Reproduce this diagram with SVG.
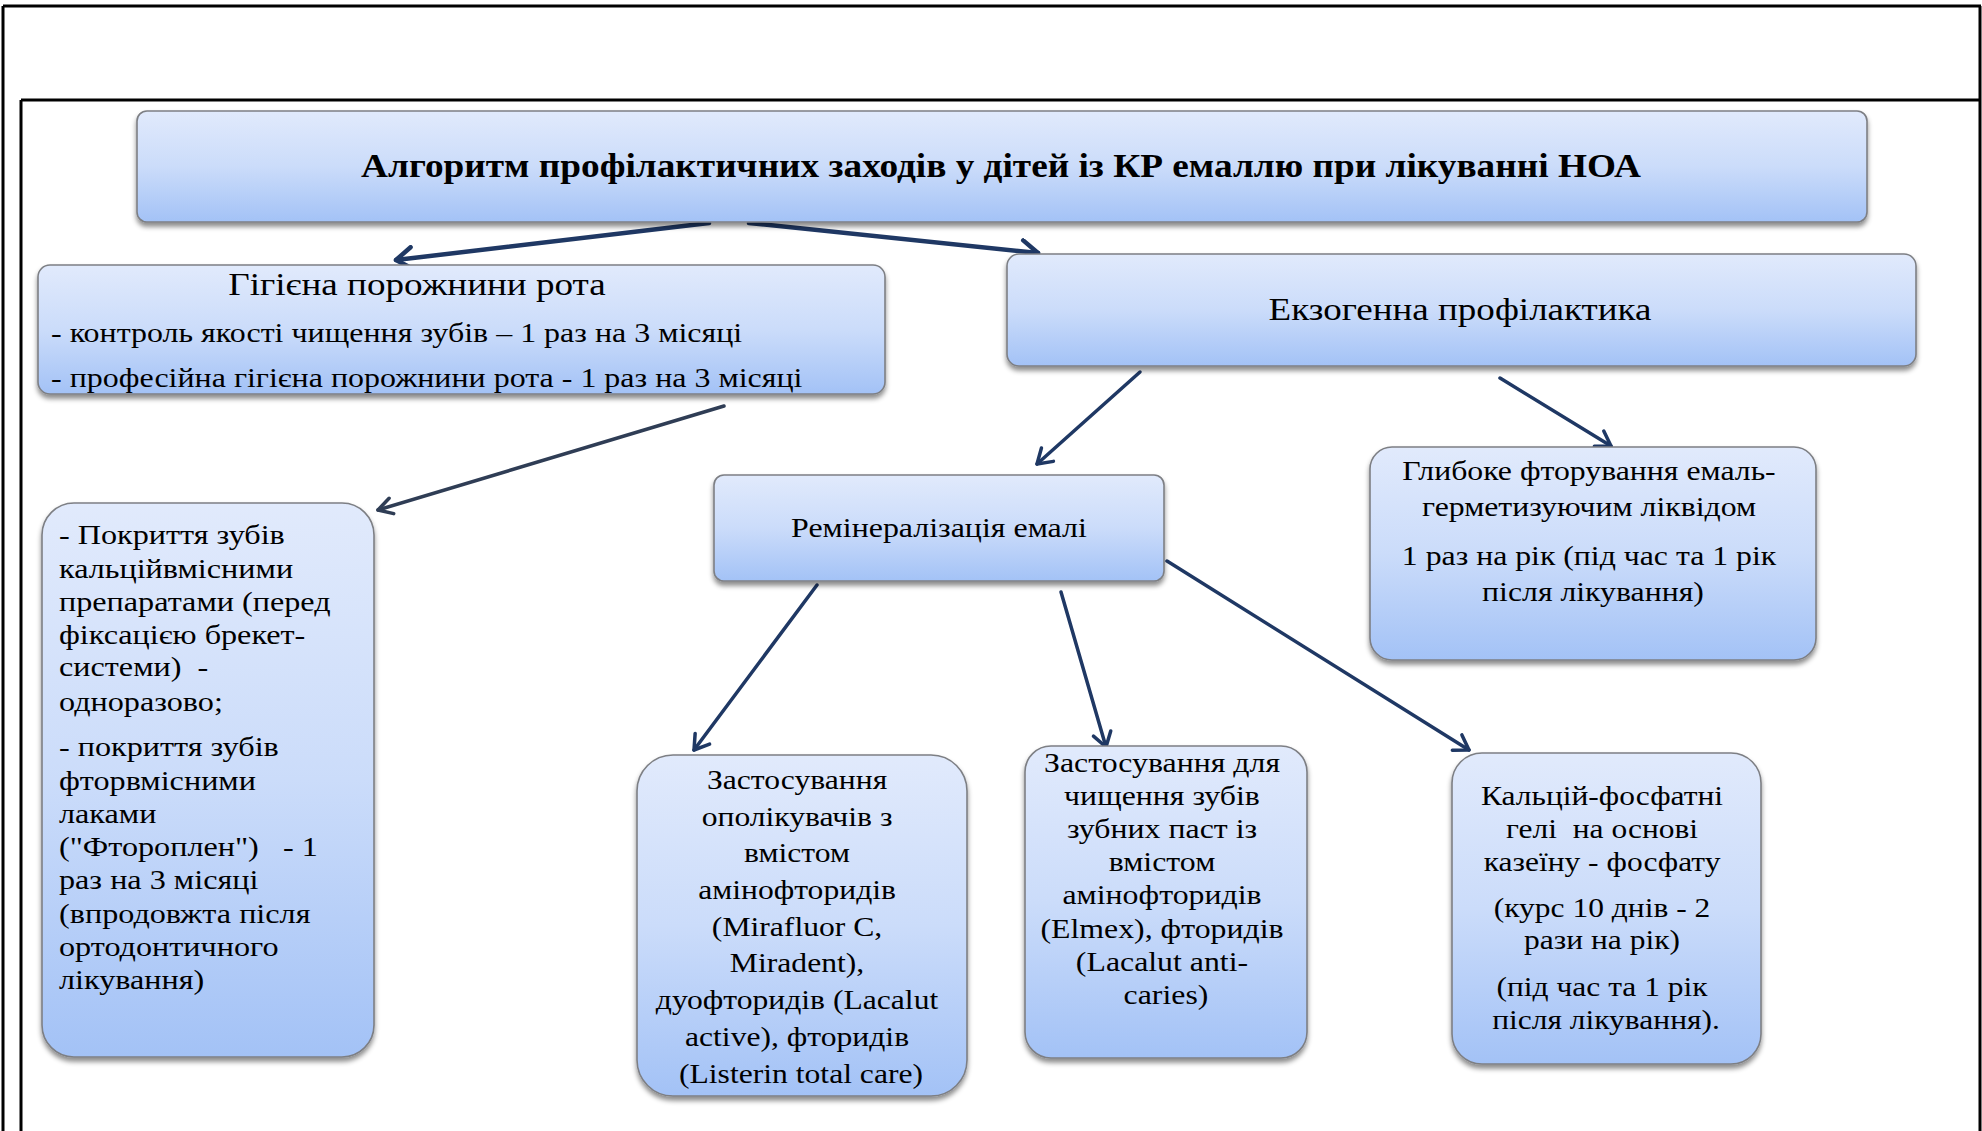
<svg xmlns="http://www.w3.org/2000/svg" width="1982" height="1131" viewBox="0 0 1982 1131">
  <defs>
    <linearGradient id="boxFill" x1="0" y1="0" x2="0" y2="1">
      <stop offset="0" stop-color="#e1eafc"/>
      <stop offset="0.5" stop-color="#cbdcfa"/>
      <stop offset="1" stop-color="#a3c2f6"/>
    </linearGradient>
    <filter id="shadow" x="-5%" y="-10%" width="110%" height="125%">
      <feDropShadow dx="0" dy="4" stdDeviation="2.5" flood-color="#000" flood-opacity="0.45"/>
    </filter>
    <marker id="arrowThick" markerUnits="userSpaceOnUse" markerWidth="26" markerHeight="26" viewBox="0 0 26 26" refX="23" refY="13" orient="auto">
      <path d="M7,2 L23,13 L7,24" fill="none" stroke="#1f3864" stroke-width="4.5" stroke-linecap="round" stroke-linejoin="round"/>
    </marker>
    <marker id="arrow" markerUnits="userSpaceOnUse" markerWidth="24" markerHeight="24" viewBox="0 0 24 24" refX="21" refY="12" orient="auto">
      <path d="M7,3 L21,12 L7,21" fill="none" stroke="#1f3864" stroke-width="3.5" stroke-linecap="round" stroke-linejoin="round"/>
    </marker>
    <marker id="arrowGrey" markerUnits="userSpaceOnUse" markerWidth="24" markerHeight="24" viewBox="0 0 24 24" refX="21" refY="12" orient="auto">
      <path d="M7,4 L21,12 L7,20" fill="none" stroke="#2f3d55" stroke-width="3.5" stroke-linecap="round" stroke-linejoin="round"/>
    </marker>
  </defs>
  <style>
    .box { fill: url(#boxFill); stroke: #7d7f84; stroke-width: 1.6; filter: url(#shadow); }
    .frame { stroke: #000; stroke-width: 3; fill: none; }
    text { font-family: "Liberation Serif", "Times New Roman", serif; fill: #000; }
    .t28 { font-size: 28px; }
    .c { text-anchor: middle; }
    .title { font-size: 33px; font-weight: bold; text-anchor: middle; }
    .head { font-size: 32px; }
    .con { fill: none; stroke: #1f3864; stroke-width: 3.5; stroke-linecap: round; }
  </style>

  <!-- page frame -->
  <g id="frame">
    <line class="frame" x1="3" y1="6" x2="1981" y2="6"/>
    <line class="frame" x1="3" y1="6" x2="3" y2="1131"/>
    <line class="frame" x1="1980" y1="6" x2="1980" y2="1131"/>
    <line class="frame" x1="21" y1="100" x2="1981" y2="100"/>
    <line class="frame" x1="21" y1="100" x2="21" y2="1131"/>
  </g>

  <!-- connectors -->
  <g id="connectors">
    <line class="con" style="stroke-width:4.5" x1="709" y1="223" x2="396" y2="260" marker-end="url(#arrowThick)"/>
    <line class="con" style="stroke-width:4.5" x1="749" y1="223" x2="1038" y2="253" marker-end="url(#arrowThick)"/>
    <line class="con" style="stroke:#2f3d55" x1="724" y1="406" x2="378" y2="510" marker-end="url(#arrowGrey)"/>
    <line class="con" x1="1140" y1="372" x2="1037" y2="464" marker-end="url(#arrow)"/>
    <line class="con" x1="1500" y1="378" x2="1611" y2="446" marker-end="url(#arrow)"/>
    <line class="con" x1="817" y1="585" x2="694" y2="750" marker-end="url(#arrow)"/>
    <line class="con" x1="1061" y1="592" x2="1106" y2="747" marker-end="url(#arrow)"/>
    <line class="con" x1="1167" y1="561" x2="1469" y2="750" marker-end="url(#arrow)"/>
  </g>

  <!-- title (text widened horizontally, scaled about its centre) -->
  <g id="node-title">
    <rect class="box" x="137" y="111" width="1730" height="111" rx="10"/>
    <text class="title" x="1001" y="177" transform="matrix(1.13,0,0,1,-130.13,0)">Алгоритм профілактичних заходів у дітей із КР емаллю при лікуванні НОА</text>
  </g>

  <!-- oral hygiene -->
  <g id="node-hygiene">
    <rect class="box" x="38" y="265" width="847" height="129" rx="12"/>
    <text class="head c" x="417" y="295" transform="matrix(1.16,0,0,1,-66.72,0)">Гігієна порожнини рота</text>
    <g transform="matrix(1.142,0,0,1,-7.24,0)">
      <text class="t28" x="51" y="342">- контроль якості чищення зубів – 1 раз на 3 місяці</text>
      <text class="t28" x="51" y="387">- професійна гігієна порожнини рота - 1 раз на 3 місяці</text>
    </g>
  </g>

  <!-- exogenous prevention -->
  <g id="node-exo">
    <rect class="box" x="1007" y="254" width="909" height="112" rx="12"/>
    <text class="head c" x="1460" y="320" transform="matrix(1.157,0,0,1,-229.22,0)">Екзогенна профілактика</text>
  </g>

  <!-- coating of teeth -->
  <g id="node-coating">
    <rect class="box" x="42" y="503" width="332" height="554" rx="32"/>
    <text class="t28" x="59" transform="matrix(1.15,0,0,1,-8.85,0)">
      <tspan x="59" y="544">- Покриття зубів</tspan>
      <tspan x="59" y="578">кальційвмісними</tspan>
      <tspan x="59" y="611">препаратами (перед</tspan>
      <tspan x="59" y="644">фіксацією брекет-</tspan>
      <tspan x="59" y="676">системи)&#160; -</tspan>
      <tspan x="59" y="711">одноразово;</tspan>
      <tspan x="59" y="756">- покриття зубів</tspan>
      <tspan x="59" y="790">фторвмісними</tspan>
      <tspan x="59" y="823">лаками</tspan>
      <tspan x="59" y="856">("Фтороплен")&#160;&#160; - 1</tspan>
      <tspan x="59" y="889">раз на 3 місяці</tspan>
      <tspan x="59" y="923">(впродовжта після</tspan>
      <tspan x="59" y="956">ортодонтичного</tspan>
      <tspan x="59" y="989">лікування)</tspan>
    </text>
  </g>

  <!-- remineralisation -->
  <g id="node-remin">
    <rect class="box" x="714" y="475" width="450" height="106" rx="10"/>
    <text class="t28 c" x="939" y="537" transform="matrix(1.14,0,0,1,-131.46,0)">Ремінералізація емалі</text>
  </g>

  <!-- deep fluoridation -->
  <g id="node-deep">
    <rect class="box" x="1370" y="447" width="446" height="213" rx="22"/>
    <text class="t28 c" transform="matrix(1.135,0,0,1,-215.06,0)">
      <tspan x="1593" y="480">Глибоке фторування емаль-</tspan>
      <tspan x="1593" y="516">герметизуючим ліквідом</tspan>
      <tspan x="1593" y="565">1 раз на рік (під час та 1 рік</tspan>
      <tspan x="1593" y="601">після лікування)</tspan>
    </text>
  </g>

  <!-- mouth rinses -->
  <g id="node-rinse">
    <rect class="box" x="637" y="755" width="330" height="341" rx="36"/>
    <text class="t28 c" transform="matrix(1.13,0,0,1,-104.13,0)">
      <tspan x="801" y="789">Застосування</tspan>
      <tspan x="801" y="826">ополікувачів з</tspan>
      <tspan x="801" y="862">вмістом</tspan>
      <tspan x="801" y="899">амінофторидів</tspan>
      <tspan x="801" y="936">(Mirafluor C,</tspan>
      <tspan x="801" y="972">Miradent),</tspan>
      <tspan x="801" y="1009">дуофторидів (Lacalut</tspan>
      <tspan x="801" y="1046">active), фторидів</tspan>
      <tspan x="801" y="1083">(Listerin total care)</tspan>
    </text>
  </g>

  <!-- toothpastes -->
  <g id="node-paste">
    <rect class="box" x="1025" y="746" width="282" height="312" rx="26"/>
    <text class="t28 c" transform="matrix(1.137,0,0,1,-159.74,0)">
      <tspan x="1166" y="772">Застосування для</tspan>
      <tspan x="1166" y="805">чищення зубів</tspan>
      <tspan x="1166" y="838">зубних паст із</tspan>
      <tspan x="1166" y="871">вмістом</tspan>
      <tspan x="1166" y="904">амінофторидів</tspan>
      <tspan x="1166" y="938">(Elmex), фторидів</tspan>
      <tspan x="1166" y="971">(Lacalut anti-</tspan>
      <tspan x="1166" y="1004">caries)</tspan>
    </text>
  </g>

  <!-- calcium-phosphate gels -->
  <g id="node-gel">
    <rect class="box" x="1452" y="753" width="309" height="311" rx="30"/>
    <text class="t28 c" transform="matrix(1.125,0,0,1,-200.75,0)">
      <tspan x="1606" y="805">Кальцій-фосфатні</tspan>
      <tspan x="1606" y="838">гелі&#160; на основі</tspan>
      <tspan x="1606" y="871">казеїну - фосфату</tspan>
      <tspan x="1606" y="917">(курс 10 днів - 2</tspan>
      <tspan x="1606" y="949">рази на рік)</tspan>
      <tspan x="1606" y="996">(під час та 1 рік</tspan>
      <tspan x="1606" y="1029">після лікування).</tspan>
    </text>
  </g>
</svg>
